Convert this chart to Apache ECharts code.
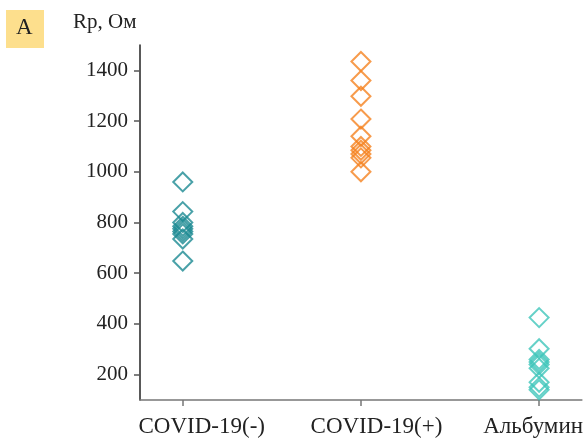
<!DOCTYPE html>
<html>
<head>
	<meta charset="utf-8">
	<script src="https://cdn.jsdelivr.net/npm/echarts@6/dist/echarts.min.js"></script>
	<title>Rp</title>
</head>
<body style="margin:0;">
	<div id="main" style="width: 586px;height:438px;"></div>

	<script type="text/javascript">
	var categories = ['COVID-19(-)', 'COVID-19(+)', 'Альбумин'];
	var covidNeg = [960, 843, 800, 785, 775, 765, 755, 735, 648];
	var covidPos = [1435, 1360, 1298, 1208, 1140, 1100, 1085, 1070, 1055, 1000];
	var albumin = [425, 302, 260, 250, 240, 225, 170, 150, 140];
	var yTicks = [200, 400, 600, 800, 1000, 1200, 1400];
	var colors = ['#1b8a92', '#f5821f', '#3ec6ba'];

	var groups = [covidNeg, covidPos, albumin];
	var font = 'Liberation Serif';
	var richKeys = ['a', 'b', 'c'];

	var myChart = echarts.init(document.getElementById('main'));

	var series = groups.map(function (vals, i) {
		return {
			type: 'scatter',
			symbol: 'diamond',
			symbolSize: 19,
			data: vals.map(function (v) { return [i, v]; }),
			itemStyle: {
				color: 'rgba(255,255,255,0)',
				borderColor: colors[i],
				borderWidth: 2
			}
		};
	});

	var option = {
		animation: false,
		textStyle: { fontFamily: font },
		graphic: [
			{ type: 'rect', shape: { x: 6, y: 10, width: 38, height: 38 }, style: { fill: '#fddf8d' } },
			{ type: 'text', left: 16, top: 16, style: { text: 'A', font: '23px ' + font, fill: '#222' } },
			{ type: 'text', left: 73, top: 12, style: { text: 'Rp, Ом', font: '21px ' + font, fill: '#222' } }
		],
		grid: { left: 140, top: 45, right: 1, bottom: 38 },
		xAxis: {
			type: 'value',
			min: -0.24,
			max: 2.24,
			splitLine: { show: false },
			axisLine: { onZero: false, lineStyle: { color: '#777', width: 1.5 } },
			axisTick: { customValues: [0, 1, 2], length: 6, lineStyle: { color: '#777', width: 1.5 } },
			axisLabel: {
				customValues: [0, 1, 2],
				formatter: function (v) {
					var i = Math.round(v);
					return '{' + richKeys[i] + '|' + categories[i] + '}';
				},
				color: '#222',
				fontSize: 23,
				fontFamily: font,
				margin: 15,
				rich: {
					a: { fontSize: 23, fontFamily: font, color: '#222', padding: [0, 0, 0, 38] },
					b: { fontSize: 23, fontFamily: font, color: '#222', padding: [0, 0, 0, 31] },
					c: { fontSize: 23, fontFamily: font, color: '#222', padding: [0, 12, 0, 0] }
				}
			}
		},
		yAxis: {
			type: 'value',
			min: 100,
			max: 1500,
			splitLine: { show: false },
			axisLine: { show: true, onZero: false, lineStyle: { color: '#222', width: 1.5 } },
			axisTick: { show: true, customValues: yTicks, length: 6, lineStyle: { color: '#555', width: 1.5 } },
			axisLabel: {
				customValues: yTicks,
				formatter: function (v) { return String(v); },
				color: '#222',
				fontSize: 21,
				fontFamily: font,
				margin: 12
			}
		},
		series: series
	};

	myChart.setOption(option);
	</script>
</body>
</html>
